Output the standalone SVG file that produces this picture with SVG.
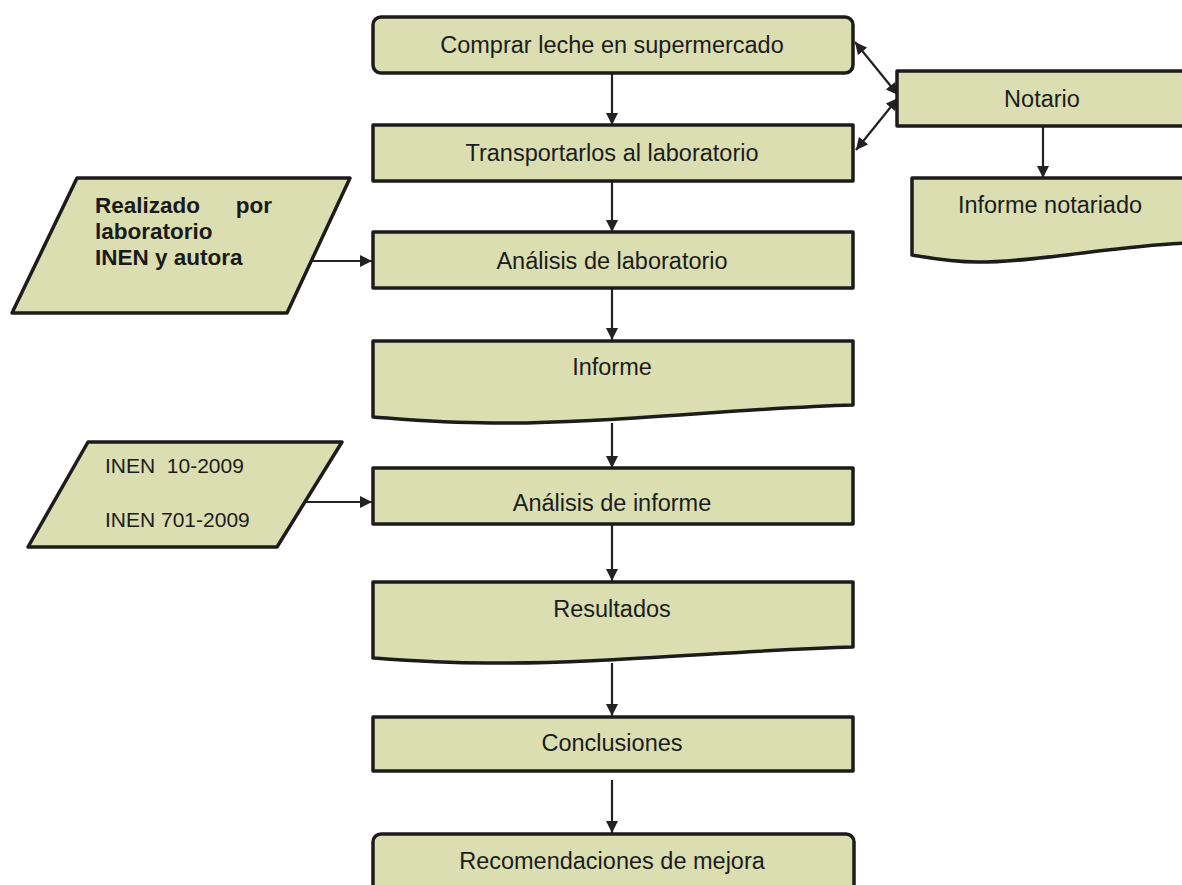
<svg xmlns="http://www.w3.org/2000/svg" width="1182" height="885" viewBox="0 0 1182 885">
<defs>
<style>
.box{fill:#dadeb0;stroke:#1c1c1c;stroke-width:3.5;stroke-linejoin:round}
.t{font-family:"Liberation Sans",Arial,sans-serif;font-size:23.5px;fill:#1c1c1c;text-anchor:middle}
.tb{font-family:"Liberation Sans",Arial,sans-serif;font-size:22.5px;font-weight:bold;fill:#1a1a1a}
.tn{font-family:"Liberation Sans",Arial,sans-serif;font-size:21px;fill:#1c1c1c}
.c{fill:none;stroke:#222;stroke-width:2.2}
</style>
<marker id="ah" viewBox="0 0 12 12" refX="12" refY="6" markerWidth="12" markerHeight="12" markerUnits="userSpaceOnUse" orient="auto-start-reverse">
<path d="M0,0 L12,6 L0,12 Z" fill="#222"/>
</marker>
</defs>
<rect width="1182" height="885" fill="#ffffff"/>
<g id="connectors">
<line class="c" x1="612" y1="73" x2="612" y2="125" marker-end="url(#ah)"/>
<line class="c" x1="612" y1="181" x2="612" y2="232" marker-end="url(#ah)"/>
<line class="c" x1="612" y1="288" x2="612" y2="340" marker-end="url(#ah)"/>
<line class="c" x1="612" y1="423" x2="612" y2="468" marker-end="url(#ah)"/>
<line class="c" x1="612" y1="524" x2="612" y2="581" marker-end="url(#ah)"/>
<line class="c" x1="612" y1="663" x2="612" y2="716" marker-end="url(#ah)"/>
<line class="c" x1="612" y1="780" x2="612" y2="833" marker-end="url(#ah)"/>
<line class="c" x1="302" y1="261" x2="372" y2="261" marker-end="url(#ah)"/>
<line class="c" x1="302" y1="502" x2="372" y2="502" marker-end="url(#ah)"/>
<line class="c" x1="855" y1="42" x2="898" y2="95" marker-start="url(#ah)" marker-end="url(#ah)"/>
<line class="c" x1="856" y1="150" x2="898" y2="98" marker-start="url(#ah)" marker-end="url(#ah)"/>
<line class="c" x1="1043" y1="126" x2="1043" y2="178" marker-end="url(#ah)"/>
</g>
<g id="n1"><rect class="box" x="373" y="17" width="480" height="56" rx="8"/><text class="t" x="612" y="53">Comprar leche en supermercado</text></g>
<g id="n2"><rect class="box" x="373" y="125" width="480" height="56"/><text class="t" x="612" y="161">Transportarlos al laboratorio</text></g>
<g id="notario"><rect class="box" x="897" y="71" width="300" height="55"/><text class="t" x="1042" y="107">Notario</text></g>
<g id="informe-notariado"><path class="box" d="M912,178 H1190 V243 C1120,245 1040,262 978,262 C950,262 930,258 912,255 Z"/><text class="t" x="1050" y="213">Informe notariado</text></g>
<g id="in1"><path class="box" d="M77,178 H350 L287,313 H12 Z"/>
<text class="tb" x="95" y="213">Realizado</text><text class="tb" x="272" y="213" text-anchor="end">por</text>
<text class="tb" x="95" y="239">laboratorio</text>
<text class="tb" x="95" y="265">INEN y autora</text></g>
<g id="n3"><rect class="box" x="373" y="232" width="480" height="56"/><text class="t" x="612" y="269">Análisis de laboratorio</text></g>
<g id="informe"><path class="box" d="M373,341 H853 V405 C740,408 600,424 492,423 C440,423 400,419 373,417 Z"/><text class="t" x="612" y="375">Informe</text></g>
<g id="in2"><path class="box" d="M88,442 H342 L277,547 H28 Z"/>
<text class="tn" x="105" y="473" xml:space="preserve">INEN  10-2009</text>
<text class="tn" x="105" y="527">INEN 701-2009</text></g>
<g id="n4"><rect class="box" x="373" y="468" width="480" height="56"/><text class="t" x="612" y="511">Análisis de informe</text></g>
<g id="resultados"><path class="box" d="M373,582 H853 V647 C740,650 600,664 487,663 C440,663 400,660 373,658 Z"/><text class="t" x="612" y="617">Resultados</text></g>
<g id="n5"><rect class="box" x="373" y="717" width="480" height="54"/><text class="t" x="612" y="751">Conclusiones</text></g>
<g id="n6"><rect class="box" x="373" y="834" width="481" height="62" rx="8"/><text class="t" x="612" y="869">Recomendaciones de mejora</text></g>
</svg>
